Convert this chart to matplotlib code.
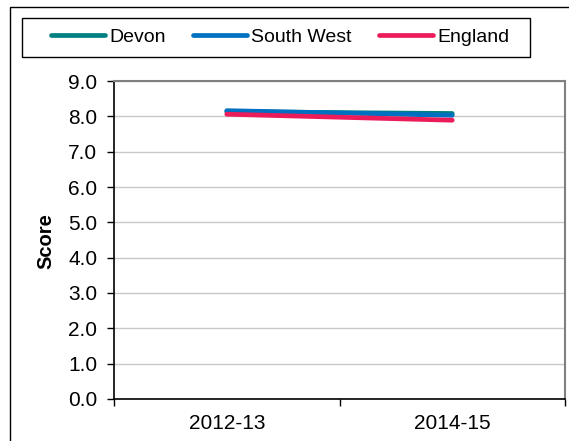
import matplotlib
matplotlib.use("Agg")
import numpy as np
from matplotlib import pyplot as plt
from matplotlib.patches import Rectangle

# Data
periods = ["2012-13", "2014-15"]
devon = [8.13, 8.08]
south_west = [8.16, 8.03]
england = [8.06, 7.89]

series_names = ["Devon", "South West", "England"]
series_colors = ["#008080", "#0070C0", "#EC1C5B"]

plt.rcParams["font.family"] = ["Liberation Sans", "DejaVu Sans"]

fig = plt.figure(figsize=(5.69, 4.41), dpi=100)
ax = fig.add_axes([114 / 569, 1 - 399 / 441, 451 / 569, 318 / 441])

x = np.arange(len(periods))
for vals, name, col in zip([devon, south_west, england], series_names, series_colors):
    ax.plot(x, vals, color=col, lw=3.4, solid_capstyle="round", label=name, zorder=3)

ax.set_xlim(-0.5, len(periods) - 0.5)
ax.set_ylim(0, 9)
ax.set_yticks(np.arange(0, 9.1, 1.0))
ax.set_yticklabels([f"{v:.1f}" for v in np.arange(0, 9.1, 1.0)])
ax.set_xticks(x)
ax.set_xticklabels(periods)
ax.set_xticks(np.arange(-0.5, len(periods), 1.0), minor=True)
ax.tick_params(axis="x", which="major", length=0, pad=11, labelsize=15)
ax.tick_params(axis="x", which="minor", length=5, width=1, direction="out")
ax.tick_params(axis="y", length=5, width=1, direction="out", pad=7, labelsize=15)

ax.yaxis.grid(True, color="#C8C8C8", lw=1)
ax.set_axisbelow(True)
for side in ["left", "bottom"]:
    ax.spines[side].set_color("black")
    ax.spines[side].set_linewidth(1.2)
for side in ["top", "right"]:
    ax.spines[side].set_color("#808080")
    ax.spines[side].set_linewidth(1.5)

fig.text(46 / 569, 1 - 241 / 441, "Score", rotation=90, fontsize=14.5,
         fontweight="bold", ha="center", va="center")

# legend entries, with its box drawn separately to match the padding
leg = fig.legend(loc="center", bbox_to_anchor=(280 / 569, 1 - 37 / 441),
                 ncol=3, frameon=False, fontsize=14, handlelength=2.8,
                 handletextpad=0.2, columnspacing=1.4)
fig.patches.append(Rectangle((22 / 569, 1 - 57 / 441), 508 / 569, 39 / 441,
                             transform=fig.transFigure, fill=False,
                             edgecolor="black", lw=1))

# outer chart border, cut off at right and bottom like the reference
fig.patches.append(Rectangle((10 / 569, -0.1), 1.0, 1.1 - 7 / 441,
                             transform=fig.transFigure, fill=False,
                             edgecolor="black", lw=1))

plt.savefig("out.png", dpi=100)
plt.close()
